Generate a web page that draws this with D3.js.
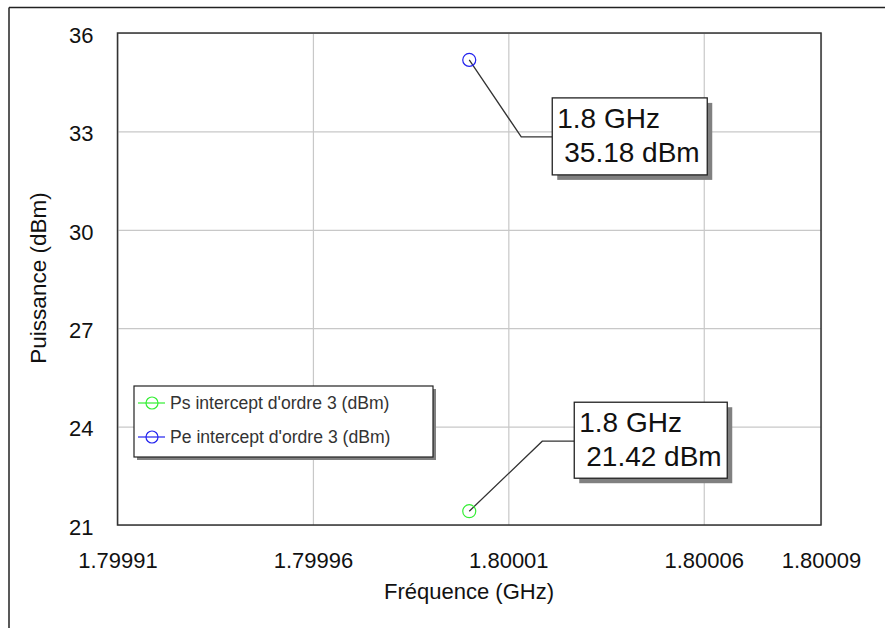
<!DOCTYPE html>
<html>
<head>
<meta charset="utf-8">
<script src="https://cdn.jsdelivr.net/npm/d3@7"></script>
<style>
html,body{margin:0;padding:0;background:#fff;}
svg{display:block;font-family:"Liberation Sans",Arial,sans-serif;}
</style>
</head>
<body>
<svg id="chart" width="885" height="628"></svg>
<script>
// ---- data ----
const frequencies = [1.8];                 // GHz
const psIntercept = [21.42];               // Ps intercept d'ordre 3 (dBm)
const peIntercept = [35.18];               // Pe intercept d'ordre 3 (dBm)
const seriesNames = ["Ps intercept d'ordre 3 (dBm)", "Pe intercept d'ordre 3 (dBm)"];
const seriesColors = ["#33ee33", "#2222ee"];
const xTickValues = [1.79991, 1.79996, 1.80001, 1.80006, 1.80009];
const yTickValues = [21, 24, 27, 30, 33, 36];
const xDomain = [1.79991, 1.80009];
const yDomain = [21, 36];

const svg = d3.select("#chart");
const W = 885, H = 628;
const plot = {left: 117.5, right: 821, top: 33, bottom: 525};

// outer frame (left & top)
svg.append("line").attr("x1",9).attr("y1",7.5).attr("x2",W).attr("y2",7.5).attr("stroke","#222").attr("stroke-width",1.5);
svg.append("line").attr("x1",9).attr("y1",7.5).attr("x2",9).attr("y2",H).attr("stroke","#222").attr("stroke-width",1.5);

const x = d3.scaleLinear().domain(xDomain).range([plot.left, plot.right]);
const y = d3.scaleLinear().domain(yDomain).range([plot.bottom, plot.top]);

// grid
const gx = svg.append("g").attr("transform", `translate(0,${plot.bottom})`)
  .call(d3.axisBottom(x).tickValues(xTickValues).tickSize(-(plot.bottom-plot.top)).tickFormat(d3.format(".5f")).tickPadding(27));
gx.select(".domain").remove();
gx.selectAll(".tick line").attr("stroke","#c8c8c8").attr("stroke-width",1.2);
gx.selectAll(".tick text").attr("font-size","22px").attr("fill","#111").attr("font-family","Liberation Sans, Arial, sans-serif");

const gy = svg.append("g").attr("transform", `translate(${plot.left},0)`)
  .call(d3.axisLeft(y).tickValues(yTickValues).tickSize(-(plot.right-plot.left)).tickFormat(d3.format("d")).tickPadding(24));
gy.select(".domain").remove();
gy.selectAll(".tick line").attr("stroke","#c8c8c8").attr("stroke-width",1.2);
gy.selectAll(".tick text").attr("font-size","22px").attr("fill","#111").attr("dy","0.42em").attr("font-family","Liberation Sans, Arial, sans-serif");

// plot frame
svg.append("rect").attr("x",plot.left).attr("y",plot.top).attr("width",plot.right-plot.left).attr("height",plot.bottom-plot.top)
  .attr("fill","none").attr("stroke","#333").attr("stroke-width",1.5);

// axis titles
svg.append("text").attr("x",469).attr("y",599).attr("text-anchor","middle").attr("font-size","22px").attr("fill","#111").text("Fréquence (GHz)");
svg.append("text").attr("transform","translate(46,278) rotate(-90)").attr("text-anchor","middle").attr("font-size","22.5px").attr("fill","#111").text("Puissance (dBm)");

// series points and annotations
const series = [
  {values: psIntercept, color: seriesColors[0], box: {dx:105, dy:-109, w:153, h:76}, elbow:{dx:73, dy:-70}},
  {values: peIntercept, color: seriesColors[1], box: {dx:83, dy:38, w:155, h:77}, elbow:{dx:52, dy:77}}
];

series.forEach(s => {
  frequencies.forEach((f, i) => {
    const px = x(f), py = y(s.values[i]);
    const bx = px + s.box.dx, by = py + s.box.dy;
    const ex = px + s.elbow.dx, ey = py + s.elbow.dy;
    svg.append("polyline").attr("points", `${px},${py} ${ex},${ey} ${bx},${ey}`)
      .attr("fill","none").attr("stroke","#333").attr("stroke-width",1.3);
    svg.append("circle").attr("cx",px).attr("cy",py).attr("r",6.5)
      .attr("fill","none").attr("stroke",s.color).attr("stroke-width",1.2);
    svg.append("rect").attr("x",bx+5).attr("y",by+5).attr("width",s.box.w).attr("height",s.box.h).attr("fill","#808080");
    svg.append("rect").attr("x",bx).attr("y",by).attr("width",s.box.w).attr("height",s.box.h)
      .attr("fill","#fff").attr("stroke","#222").attr("stroke-width",1.3);
    svg.append("text").attr("x",bx+5).attr("y",by+30).attr("font-size","28px").attr("fill","#111")
      .text(`${f} GHz`);
    svg.append("text").attr("x",bx+12).attr("y",by+64).attr("font-size","28px").attr("fill","#111")
      .text(`${d3.format(".2f")(s.values[i])} dBm`);
  });
});

// legend
const lg = {x:134, y:386, w:299, h:71};
svg.append("rect").attr("x",lg.x+3).attr("y",lg.y+3).attr("width",lg.w).attr("height",lg.h).attr("fill","#808080");
svg.append("rect").attr("x",lg.x).attr("y",lg.y).attr("width",lg.w).attr("height",lg.h).attr("fill","#fff").attr("stroke","#222").attr("stroke-width",1.2);
seriesNames.forEach((name, i) => {
  const ly = lg.y + 17 + i*34;
  svg.append("line").attr("x1",lg.x+4).attr("x2",lg.x+31).attr("y1",ly).attr("y2",ly).attr("stroke",seriesColors[i]).attr("stroke-width",1.2);
  svg.append("circle").attr("cx",lg.x+18).attr("cy",ly).attr("r",6).attr("fill","none").attr("stroke",seriesColors[i]).attr("stroke-width",1.2);
  svg.append("text").attr("x",lg.x+36).attr("y",ly+6).attr("font-size","17.6px").attr("fill","#333").text(name);
});
</script>
</body>
</html>
